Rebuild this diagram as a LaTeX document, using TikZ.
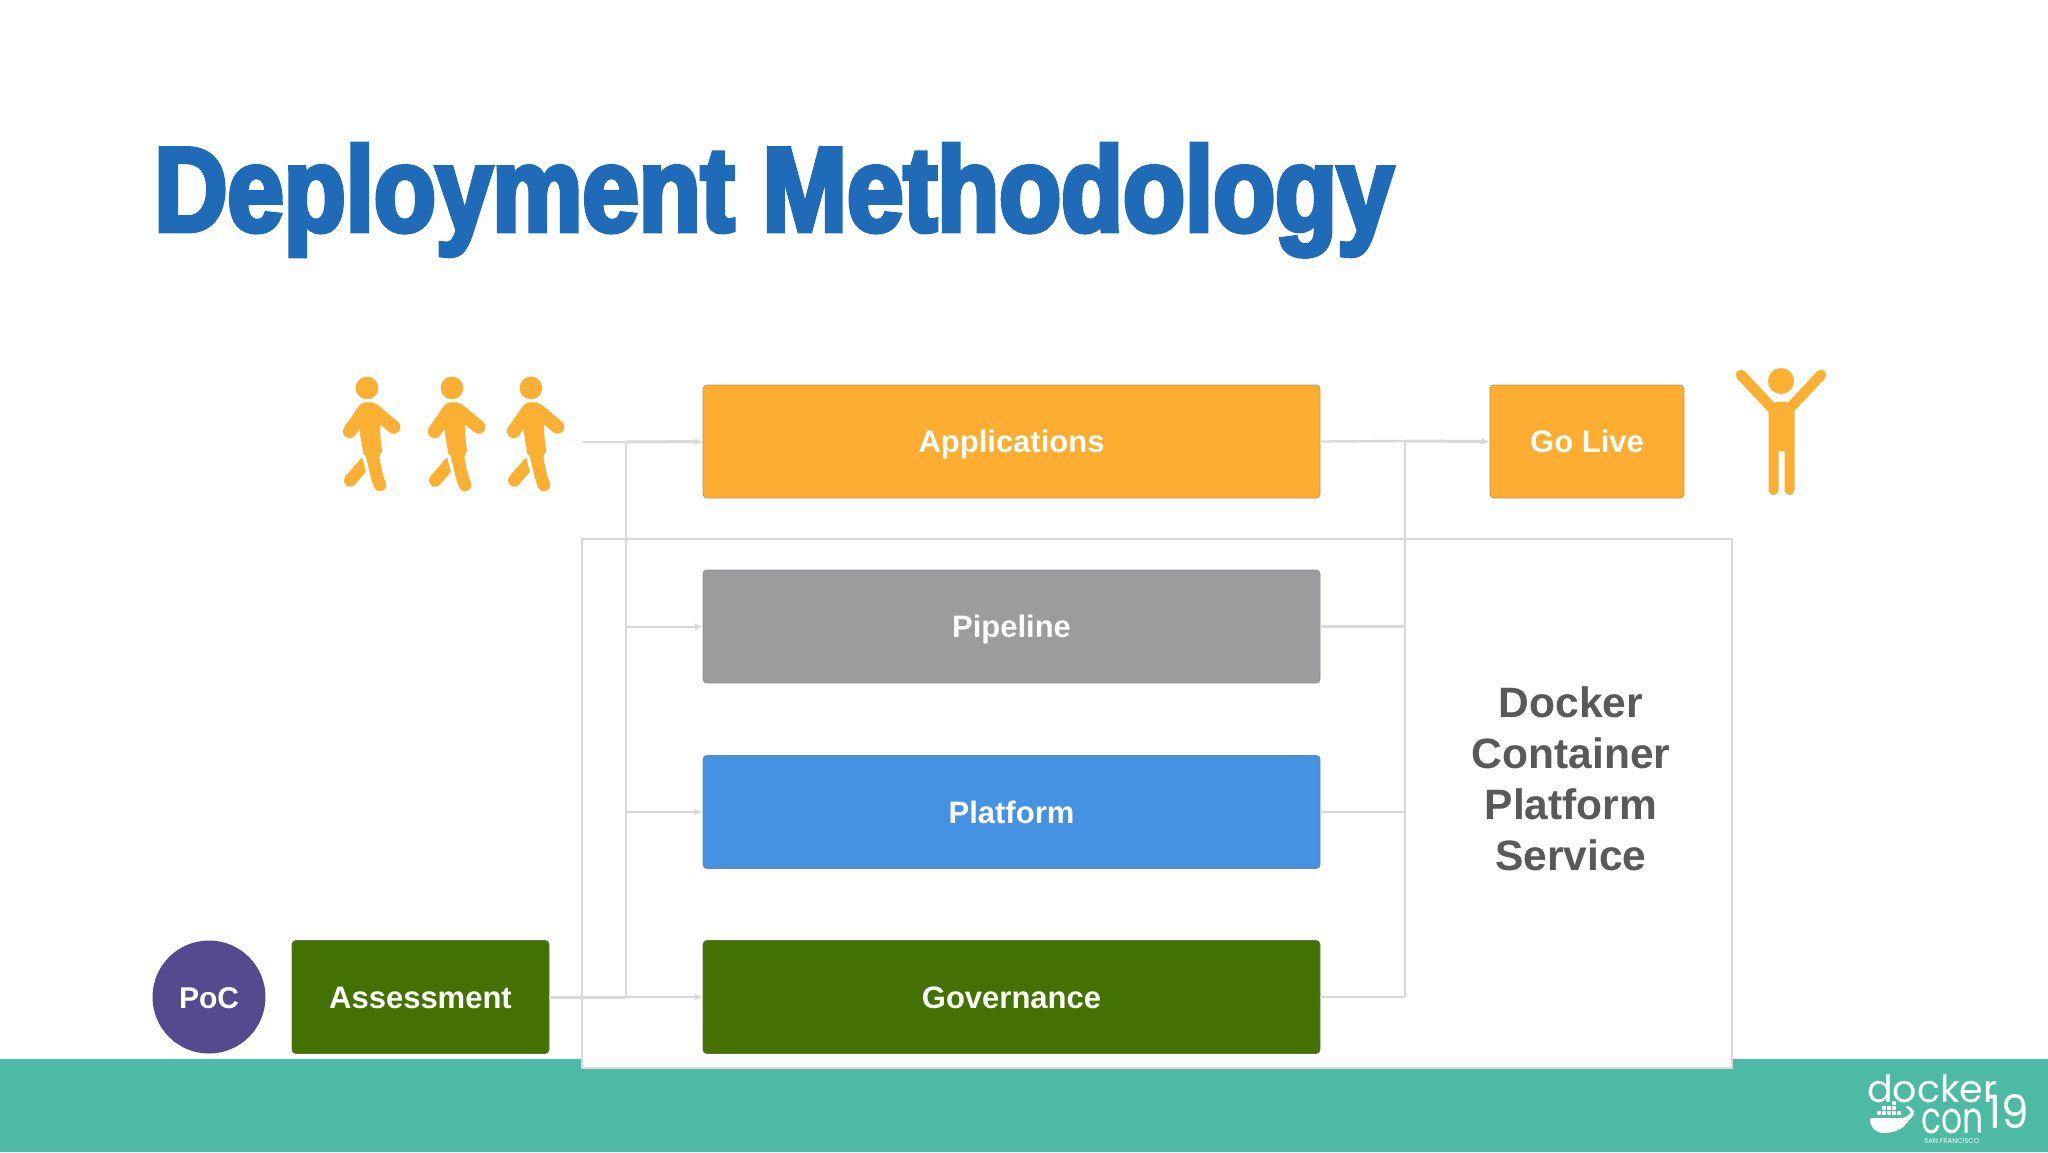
\documentclass[tikz,border=0pt]{standalone}
\usepackage{fontspec}
\setmainfont{Liberation Sans}
\newfontfamily\titlefont[FakeStretch=0.845,FakeBold=4]{Liberation Sans Bold}
\newfontfamily\logofont{Poppins}
\usetikzlibrary{arrows.meta}
\definecolor{orangebox}{HTML}{FDAD31}
\definecolor{orangefig}{HTML}{FBB034}
\definecolor{graybox}{HTML}{9C9B9E}
\definecolor{bluebox}{HTML}{4592E3}
\definecolor{greenbox}{HTML}{437202}
\definecolor{purplepoc}{HTML}{554A8E}
\definecolor{band}{HTML}{4DBBA3}
\definecolor{wire}{HTML}{D8D8DD}
\definecolor{titleblue}{HTML}{1F6BB8}
\definecolor{dockertext}{HTML}{595959}
\tikzset{
  stagebox/.style={draw=#1!55!gray,line width=0.8pt,fill=#1,rounded corners=4pt,inner sep=0pt,
    text=white,font=\bfseries\fontsize{31}{31}\selectfont,minimum height=113pt,text height=22pt,text depth=0pt},
  link/.style={draw=wire,line width=2.4pt},
  tiplink/.style={draw=wire,line width=2pt,-{Latex[length=8pt,width=7pt]}},
  walker/.pic={
    \begin{scope}[x=0.3333pt,y=-0.3333pt,shift={(-142,-115)}]
      \fill[orangefig] (142,115) circle[radius=34];
      \draw[orangefig,line width=13.5pt,line cap=round,line join=round] (90,245) -- (135,180) -- (160,180) -- (222,232);
      \fill[orangefig] (118,200) -- (135,158) -- (160,158) -- (182,200) -- (181,250) -- (187,305) -- (178,322) -- (133,322) -- (122,260) -- cycle;
      \draw[orangefig,line width=12.5pt,line cap=round] (137,340) -- (92,392);
      \fill[white] (126,316) -- (137,316) -- (162,410) -- (150,410) -- cycle;
      \draw[orangefig,line width=12.5pt,line cap=round] (158,310) .. controls (165,350) and (170,380) .. (181,406);
    \end{scope}
  }
}
\begin{document}
\begin{tikzpicture}[x=1pt,y=-1pt]
\useasboundingbox (0,0) rectangle (2048,1152);
\fill[white] (0,0) rectangle (2048,1152);
\fill[band] (0,1059) rectangle (2048,1152);
\node[anchor=base west,inner sep=0pt,text=titleblue,font=\titlefont\fontsize{120}{120}\selectfont] (title) at (154,231) {Deployment Methodology};

\node[draw=wire,fill=white,line width=2.4pt,minimum width=1150pt,minimum height=529pt,inner sep=0pt] (container) at (1157,803.5) {};
\node[align=center,inner sep=0pt,text=dockertext,font=\bfseries\fontsize{42.5}{51}\selectfont] (service) at (1571,778.5) {Docker\\Container\\Platform\\Service};

\node[stagebox=orangebox,minimum width=617pt] (apps) at (1011.5,441.5) {Applications};
\node[stagebox=graybox,minimum width=617pt] (pipe) at (1011.5,626.5) {Pipeline};
\node[stagebox=bluebox,minimum width=617pt] (plat) at (1011.5,812) {Platform};
\node[stagebox=greenbox,minimum width=617pt] (gov) at (1011.5,997) {Governance};
\node[stagebox=orangebox,minimum width=194pt] (golive) at (1587,441.5) {Go Live};
\node[stagebox=greenbox,minimum width=257pt] (assess) at (420.5,997) {Assessment};
\node[circle,fill=purplepoc,minimum size=113pt,inner sep=0pt,text=white,font=\bfseries\fontsize{30}{30}\selectfont,text height=22pt,text depth=0pt] (poc) at (209,997) {PoC};

\coordinate (src) at (583,442);
\coordinate (ljoinT) at (626,442);
\coordinate (ljoinB) at (626,997);
\coordinate (rjoinT) at (1405,441);
\coordinate (rjoinB) at (1405,997);
\draw[link] (ljoinT) -- (ljoinB);
\draw[link] (rjoinT) -- (rjoinB);
\draw[link,line width=1.8pt] (src) -- (ljoinT);
\draw[tiplink,line width=3pt] (ljoinT) -- (apps.west);
\draw[tiplink] (ljoinB) -- (gov.west);
\draw[link,line width=3pt] (assess.east) -- (ljoinB);
\draw[tiplink] (ljoinT |- pipe.west) -- (pipe.west);
\draw[tiplink] (ljoinT |- plat.west) -- (plat.west);
\draw[link] (apps.east) -- (rjoinT);
\draw[tiplink,line width=3pt] (rjoinT) -- (golive.west);
\draw[link] (pipe.east) -- (rjoinT |- pipe.east);
\draw[link] (plat.east) -- (rjoinT |- plat.east);
\draw[link] (gov.east) -- (rjoinB);

\pic at (367,388) {walker};
\pic at (452,388) {walker};
\pic at (531,388) {walker};

% raised-arms figure
\begin{scope}[orangefig]
  \fill (1781,381) circle[radius=13];
  \draw[line width=10.5pt,line cap=round] (1741,375) -- (1772,408);
  \draw[line width=10.5pt,line cap=round] (1821,375) -- (1790,408);
  \fill (1768.5,412) .. controls (1768.5,398) and (1794.5,398) .. (1794.5,412) -- (1794.5,490) arc[start angle=0,end angle=180,radius=5] -- (1784.5,451) -- (1778.5,451) -- (1778.5,490) arc[start angle=0,end angle=180,radius=5] -- cycle;
\end{scope}

% logo
\node[anchor=base west,inner sep=0pt,text=white,font=\logofont\fontsize{38}{38}\selectfont] (logodocker) at (1867,1102) {docker};
\node[anchor=base west,inner sep=0pt,text=white,font=\logofont\fontsize{44}{44}\selectfont] (logocon) at (1921,1133) {\scalebox{0.75}[1]{con}};
\node[anchor=base west,inner sep=0pt,text=white,font=\logofont\fontsize{46}{46}\selectfont] (logoyear) at (1987,1128) {\scalebox{0.95}[1]{19}};
\node[anchor=base west,inner sep=0pt,text=white,font=\logofont\fontsize{7}{7}\selectfont] (logocity) at (1924,1143) {SAN FRANCISCO};
\begin{scope}[white]
  \fill (1870,1118) -- (1901,1118) .. controls (1906,1118) and (1909,1115) .. (1911,1112) .. controls (1906,1108) and (1905,1106) .. (1906,1106) .. controls (1910,1106) and (1912,1108) .. (1913,1110) .. controls (1917,1110) and (1912,1118) .. (1909,1120) .. controls (1904,1130) and (1892,1133) .. (1884,1133) .. controls (1874,1133) and (1870,1126) .. (1870,1118) -- cycle;
  \foreach \x in {1877,1882,1887,1892,1897} \fill (\x,1111) rectangle +(4,4);
  \foreach \x in {1882,1887,1892} \fill (\x,1106) rectangle +(4,4);
  \fill (1892,1101) rectangle +(4,4);
\end{scope}
\end{tikzpicture}
\end{document}
